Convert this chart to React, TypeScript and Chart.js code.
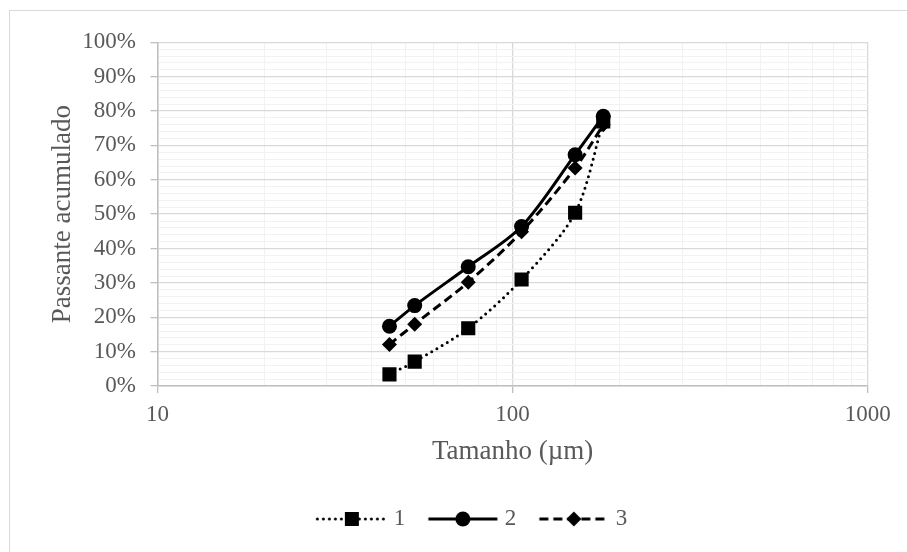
import React, { useEffect, useRef } from 'react';
import { Chart, registerables } from 'chart.js';

Chart.register(...registerables);

// ---- data ----
const sizes = [45, 53, 75, 106, 150, 180]; // µm
const series1 = [3.4, 7.1, 16.8, 31.0, 50.4, 77.0];
const series2 = [17.4, 23.4, 34.7, 46.4, 67.3, 78.5];
const series3 = [12.1, 18.0, 30.2, 44.9, 63.4, 76.0];
const seriesLabels = ['1', '2', '3'];
const xMajorTicks = [10, 100, 1000];
const yMajorStep = 10;
const yMinorStep = 2;

const FONT = '"Liberation Serif", "Times New Roman", serif';
const TEXT = '#595959';
const MAJOR = '#d9d9d9';
const MINOR = '#f2f2f2';
const AXIS = '#bfbfbf';
const LEGEND_SHIFT = 28;

function isMajorX(v: number) {
  const l = Math.log10(v);
  return Math.abs(l - Math.round(l)) < 1e-6;
}

function makeLegendImage(dash: number[], cap: CanvasLineCap, marker: string): HTMLCanvasElement {
  const c = document.createElement('canvas');
  c.width = 87;
  c.height = 20;
  const g = c.getContext('2d')!;
  g.strokeStyle = '#000';
  g.lineWidth = 3;
  g.lineCap = cap;
  g.setLineDash(dash);
  g.beginPath();
  g.moveTo(16.5, 10);
  g.lineTo(85.5, 10);
  g.stroke();
  g.setLineDash([]);
  g.fillStyle = '#000';
  const cx = 51, cy = 10;
  if (marker === 'rect') {
    g.fillRect(cx - 7, cy - 7, 14, 14);
  } else if (marker === 'circle') {
    g.beginPath();
    g.arc(cx, cy, 7.5, 0, Math.PI * 2);
    g.fill();
  } else {
    g.beginPath();
    g.moveTo(cx - 7.5, cy);
    g.lineTo(cx, cy - 7.5);
    g.lineTo(cx + 7.5, cy);
    g.lineTo(cx, cy + 7.5);
    g.closePath();
    g.fill();
  }
  return c;
}

export default function App() {
  const ref = useRef<HTMLCanvasElement | null>(null);

  useEffect(() => {
    const canvas = ref.current;
    if (!canvas) return;

    const styles = [
      { dash: [0, 6], cap: 'round' as CanvasLineCap, marker: 'rect', radius: 10 },
      { dash: [] as number[], cap: 'butt' as CanvasLineCap, marker: 'circle', radius: 7.5 },
      { dash: [9, 5], cap: 'butt' as CanvasLineCap, marker: 'rectRot', radius: 7.5 },
    ];
    const values = [series1, series2, series3];
    const legendImgs = styles.map((s) => makeLegendImage(s.dash, s.cap, s.marker));

    const legendShift = {
      id: 'legendShift',
      afterLayout(chart: any) {
        const lg = chart.legend;
        if (lg) {
          lg.left += LEGEND_SHIFT;
          lg.right += LEGEND_SHIFT;
        }
      },
    };

    const chart = new Chart(canvas, {
      type: 'line',
      data: {
        datasets: values.map((vals, i) => ({
          label: seriesLabels[i],
          data: sizes.map((x, j) => ({ x, y: vals[j] })),
          borderColor: '#000',
          backgroundColor: '#000',
          borderWidth: 3,
          borderDash: styles[i].dash,
          borderCapStyle: styles[i].cap,
          pointStyle: styles[i].marker as any,
          pointRadius: styles[i].radius,
          pointBorderWidth: 0,
          pointBackgroundColor: '#000',
          pointBorderColor: '#000',
          tension: 0.3,
          fill: false,
        })),
      },
      options: {
        animation: false,
        responsive: false,
        devicePixelRatio: 1,
        layout: { padding: { left: 10, right: 39.3, top: 42.3, bottom: 11.5 } },
        plugins: {
          tooltip: { enabled: false },
          legend: {
            display: true,
            position: 'bottom',
            labels: {
              usePointStyle: true,
              pointStyleWidth: 76,
              padding: 12,
              color: TEXT,
              font: { family: FONT, size: 23 },
              generateLabels: (ch: any) =>
                ch.data.datasets.map((ds: any, i: number) => ({
                  text: ds.label,
                  pointStyle: legendImgs[i],
                  datasetIndex: i,
                  fillStyle: '#000',
                  strokeStyle: '#000',
                  lineWidth: 0,
                  hidden: false,
                  fontColor: TEXT,
                })),
            },
          },
        },
        scales: {
          x: {
            type: 'logarithmic',
            min: 10,
            max: 1000,
            afterFit: (s: any) => {
              s.height = 109.5;
            },
            border: { color: AXIS, width: 1.5 },
            grid: {
              color: (c: any) => (isMajorX(c.tick.value) ? MAJOR : MINOR),
              lineWidth: (c: any) => (isMajorX(c.tick.value) ? 1.3 : 1),
              tickColor: (c: any) => (isMajorX(c.tick.value) ? AXIS : 'rgba(0,0,0,0)'),
              tickLength: 7,
              drawTicks: true,
            },
            ticks: {
              autoSkip: false,
              maxRotation: 0,
              padding: 7.7,
              color: TEXT,
              font: { family: FONT, size: 23 },
              callback: (v: any) => (xMajorTicks.includes(Number(v)) ? String(v) : ''),
            },
            title: {
              display: true,
              text: 'Tamanho (µm)',
              color: TEXT,
              font: { family: FONT, size: 27 },
              padding: { top: 0, bottom: 27.8 },
            },
          },
          y: {
            type: 'linear',
            min: 0,
            max: 100,
            afterFit: (s: any) => {
              s.width = 147.5;
            },
            border: { color: AXIS, width: 1.5 },
            grid: {
              color: (c: any) => (c.tick.value % yMajorStep === 0 ? MAJOR : MINOR),
              lineWidth: (c: any) => (c.tick.value % yMajorStep === 0 ? 1.3 : 1),
              tickColor: (c: any) => (c.tick.value % yMajorStep === 0 ? AXIS : 'rgba(0,0,0,0)'),
              tickLength: 7,
              drawTicks: true,
            },
            ticks: {
              stepSize: yMinorStep,
              autoSkip: false,
              padding: 14.5,
              color: TEXT,
              font: { family: FONT, size: 23 },
              callback: (v: any) => (Number(v) % yMajorStep === 0 ? `${v}%` : ''),
            },
            title: {
              display: true,
              text: 'Passante acumulado',
              color: TEXT,
              font: { family: FONT, size: 27 },
              padding: { top: 36.8, bottom: 0 },
            },
          },
        },
      },
      plugins: [legendShift],
    } as any);

    return () => chart.destroy();
  }, []);

  return (
    <div
      style={{
        position: 'fixed',
        left: 0,
        top: 0,
        width: 907,
        height: 552,
        background: '#fff',
        overflow: 'hidden',
      }}
    >
      <div
        style={{
          position: 'absolute',
          left: 9,
          top: 10,
          width: 1000,
          height: 1000,
          border: '1.5px solid #d9d9d9',
        }}
      />
      <canvas
        ref={ref}
        width={907}
        height={552}
        style={{ position: 'absolute', left: 0, top: 0, width: 907, height: 552 }}
      />
    </div>
  );
}
